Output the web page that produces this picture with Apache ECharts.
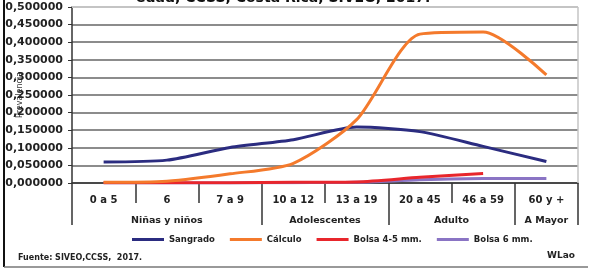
<!DOCTYPE html>
<html>
<head>
<meta charset="utf-8">
<script src="https://cdn.jsdelivr.net/npm/echarts@6/dist/echarts.min.js"></script>
<style>
  html, body { margin: 0; padding: 0; background: #fff; }
  #chart { width: 592px; height: 271px; }
</style>
</head>
<body>
<div id="chart"></div>
<script>
// data
const categories = ['0 a 5', '6', '7 a 9', '10 a 12', '13 a 19', '20 a 45', '46 a 59', '60 y +'];
const groups = ['Niñas y niños', 'Adolescentes', 'Adulto', 'A Mayor'];
const groupCenters = [1.5, 4, 6, 7.5];
const groupBounds = [0, 3, 5, 7, 8];
const sangrado = [0.060, 0.065, 0.101, 0.123, 0.159, 0.146, 0.104, 0.061];
const calculo = [0.002, 0.005, 0.026, 0.056, 0.180, 0.423, 0.429, 0.307];
const bolsa45 = [0.001, 0.001, 0.001, 0.002, 0.003, 0.016, 0.027, null];
const bolsa6 = [0.000, 0.000, 0.000, 0.001, 0.002, 0.009, 0.013, 0.013];

const FONT = 'DejaVu Sans';

const chart = echarts.init(document.getElementById('chart'));

const mkLine = (name, data, color) => ({
    name: name,
    type: 'line',
    data: data,
    smooth: 0.25,
    symbol: 'none',
    connectNulls: false,
    lineStyle: { color: color, width: 3 },
    itemStyle: { color: color }
});

let option = {
    backgroundColor: '#fff',
    animation: false,
    grid: { left: 72, right: 14, top: 7, bottom: 88 },
    xAxis: [
        {
            type: 'category',
            data: categories,
            boundaryGap: true,
            axisLine: { show: true, onZero: false, lineStyle: { color: '#333', width: 1.5 } },
            axisTick: { show: true, length: 20, interval: 0, lineStyle: { color: '#333', width: 1.5 } },
            axisLabel: {
                interval: 0, margin: 12, color: '#222',
                fontFamily: FONT, fontWeight: 'bold', fontSize: 10
            }
        },
        {
            type: 'value',
            min: 0,
            max: 8,
            position: 'bottom',
            axisLine: { show: false },
            splitLine: { show: false },
            axisTick: {
                show: true, length: 42, customValues: groupBounds,
                lineStyle: { color: '#333', width: 1.5 }
            },
            axisLabel: {
                customValues: groupCenters,
                margin: 33, color: '#222',
                fontFamily: FONT, fontWeight: 'bold', fontSize: 9.5,
                formatter: (v) => groups[groupCenters.indexOf(v)]
            }
        }
    ],
    yAxis: {
        type: 'value',
        min: 0,
        max: 0.5,
        interval: 0.05,
        name: 'Prevalencia',
        nameLocation: 'middle',
        nameRotate: 90,
        nameGap: 48,
        nameMoveOverlap: false,
        nameTextStyle: { fontFamily: FONT, fontSize: 8, color: '#333' },
        axisLine: { show: true, lineStyle: { color: '#333', width: 1.5 } },
        axisTick: { show: true, length: 4, lineStyle: { color: '#333' } },
        axisLabel: {
            margin: 9, color: '#222',
            fontFamily: FONT, fontWeight: 'bold', fontSize: 11,
            formatter: (v) => v.toFixed(6).replace('.', ',')
        },
        splitLine: { show: true, lineStyle: { color: '#666', width: 1.5 } }
    },
    legend: {
        left: 127,
        top: 230,
        icon: 'rect',
        itemWidth: 32,
        itemHeight: 3,
        itemGap: 15,
        textStyle: { fontFamily: FONT, fontWeight: 'bold', fontSize: 8.5, color: '#222' },
        data: ['Sangrado', 'Cálculo', 'Bolsa 4-5 mm.', 'Bolsa 6 mm.']
    },
    graphic: [
        {
            type: 'text', left: 136, top: -9, z: 100,
            style: {
                text: 'edad, CCSS, Costa Rica, SIVEO, 2017.',
                font: 'bold 14px "DejaVu Sans"', fill: '#111'
            }
        },
        { type: 'line', z: 50, shape: { x1: 72, y1: 7, x2: 578, y2: 7 }, style: { stroke: '#c4c4c4', lineWidth: 2 } },
        { type: 'line', z: 50, shape: { x1: 578, y1: 7, x2: 578, y2: 183 }, style: { stroke: '#c4c4c4', lineWidth: 1.5 } },
        { type: 'line', shape: { x1: 4, y1: 0, x2: 4, y2: 267 }, style: { stroke: '#111', lineWidth: 2 } },
        { type: 'line', shape: { x1: 4, y1: 267, x2: 588, y2: 267 }, style: { stroke: '#777', lineWidth: 1.5 } },
        {
            type: 'text', left: 18, top: 254,
            style: { text: 'Fuente: SIVEO,CCSS,  2017.', font: 'bold 8px "DejaVu Sans"', fill: '#222' }
        },
        {
            type: 'text', left: 547, top: 251,
            style: { text: 'WLao', font: 'bold 9px "DejaVu Sans"', fill: '#222' }
        }
    ],
    series: [
        mkLine('Bolsa 6 mm.', bolsa6, '#8a74c4'),
        mkLine('Bolsa 4-5 mm.', bolsa45, '#e8262c'),
        mkLine('Sangrado', sangrado, '#2b2c80'),
        mkLine('Cálculo', calculo, '#f47a2c')
    ]
};

chart.setOption(option);
</script>
</body>
</html>
